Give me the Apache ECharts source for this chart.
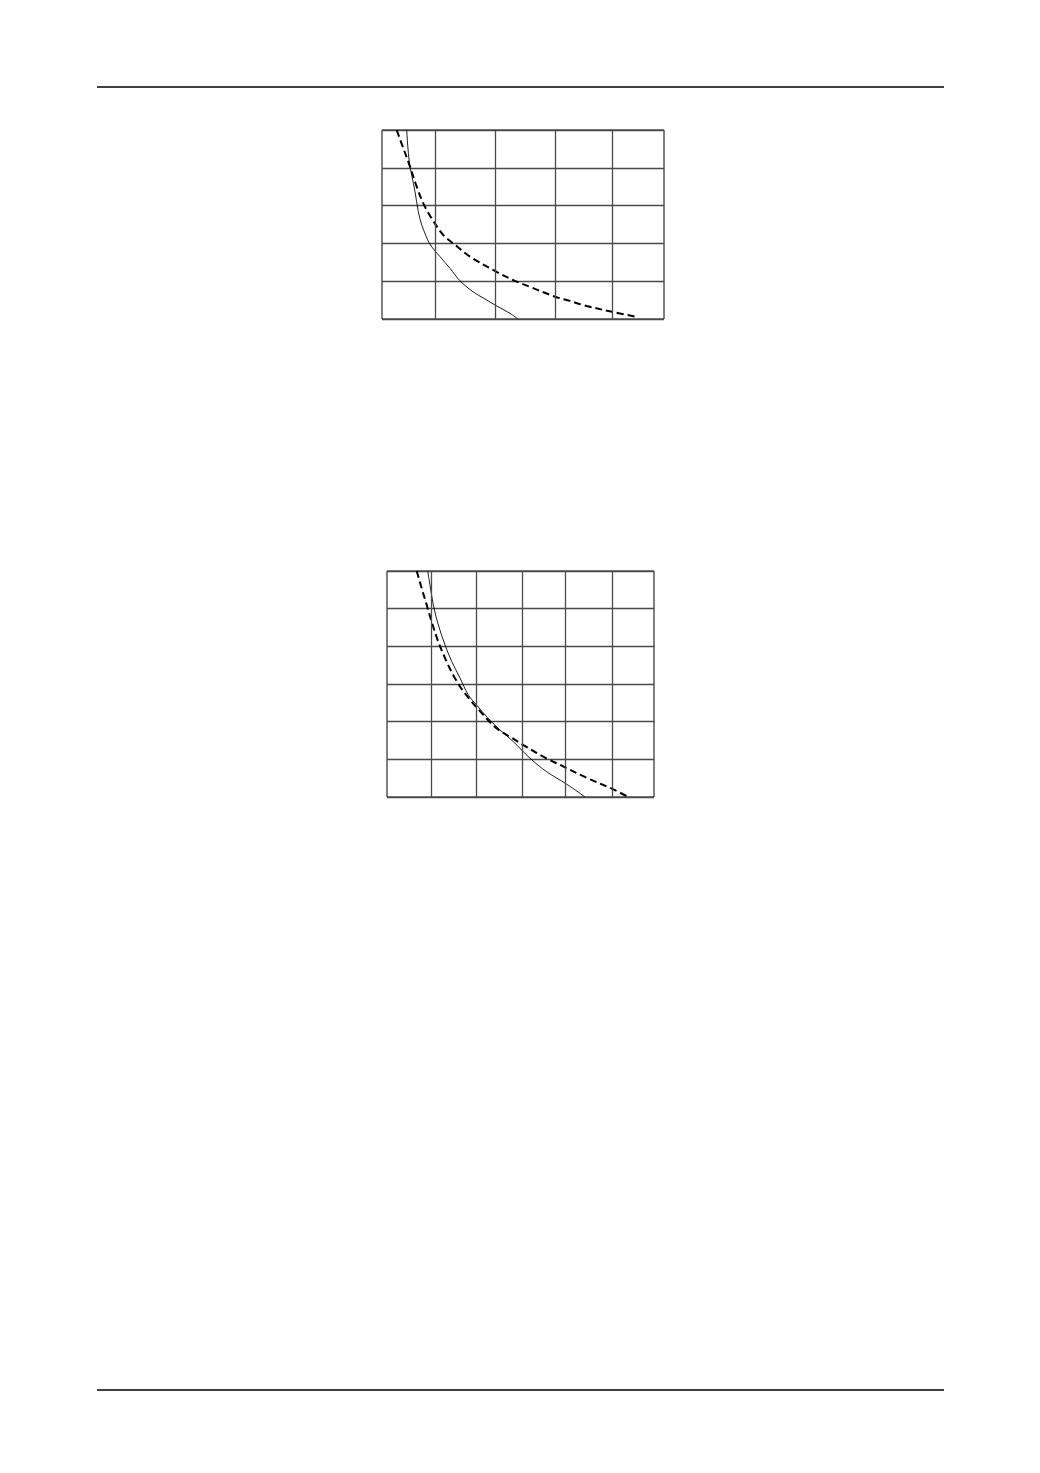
<!DOCTYPE html>
<html>
<head>
<meta charset="utf-8">
<script src="https://cdn.jsdelivr.net/npm/echarts@6/dist/echarts.min.js"></script>
<style>
html,body{margin:0;padding:0;background:#fff;}
#c{width:1040px;height:1473px;}
</style>
</head>
<body>
<div id="c"></div>
<script>
// Chart 1 (top)
var top_xMax = 28.2;
var top_yMax = 5;
var top_xGridLines = [5.3, 11.3, 17.3, 23.0];
var top_solid = [[2.47,5.0],[2.57,4.6],[2.73,4.16],[2.97,3.81],[3.3,3.37],[3.63,2.84],[3.97,2.49],[4.4,2.2],[4.75,2.0],[5.3,1.8],[5.8,1.65],[6.8,1.34],[7.8,1.01],[9.1,0.72],[10.3,0.53],[11.3,0.37],[12.8,0.15],[13.6,0]];
var top_dashed = [[1.47,5.0],[2.13,4.52],[2.8,4.03],[3.47,3.5],[4.13,3.06],[4.97,2.66],[6.13,2.22],[7.13,2.0],[8.8,1.65],[11.3,1.27],[13.13,1.03],[14.8,0.85],[17.3,0.59],[18.8,0.48],[20.1,0.37],[23.0,0.19],[25.6,0.05]];

// Chart 2 (bottom)
var bot_xMax = 26.7;
var bot_yMax = 6;
var bot_xGridLines = [4.4, 8.95, 13.53, 17.87, 22.57];
var bot_solid = [[4.07,6.0],[4.3,5.63],[4.63,5.10],[5.13,4.57],[5.8,4.04],[6.47,3.60],[7.3,3.16],[8.13,2.71],[8.97,2.44],[9.8,2.18],[10.3,2.04],[11.3,1.78],[12.63,1.47],[14.3,1.03],[15.97,0.67],[17.97,0.34],[19.8,0]];
var bot_dashed = [[2.97,6.0],[3.47,5.54],[3.97,5.10],[4.47,4.65],[5.13,4.12],[5.97,3.59],[6.8,3.15],[7.8,2.75],[9.63,2.18],[10.97,1.82],[12.3,1.60],[13.63,1.38],[15.63,1.07],[17.87,0.78],[19.97,0.51],[22.57,0.21],[24.13,0]];

var gridLineColor = '#4a4a4a';

function xAxisFor(idx, max){
  return {type:'value', gridIndex:idx, min:0, max:max, axisLine:{show:false}, axisTick:{show:false}, axisLabel:{show:false}, splitLine:{show:false}};
}
function yAxisFor(idx, max){
  return {type:'value', gridIndex:idx, min:0, max:max, interval:1, axisLine:{show:false}, axisTick:{show:false}, axisLabel:{show:false}, splitLine:{show:true, lineStyle:{color:gridLineColor, width:1.3}}};
}
function vLines(arr){
  return {silent:true, symbol:['none','none'], label:{show:false}, lineStyle:{color:gridLineColor, width:1.3, type:'solid'}, data:arr.map(function(v){return {xAxis:v};})};
}
function curve(idx, data, dashed, grid){
  var s = {type:'line', xAxisIndex:idx, yAxisIndex:idx, data:data, smooth:0.35, symbol:'none', z:3,
    lineStyle: dashed ? {color:'#000', width:2, type:[7,4]} : {color:'#000', width:0.9}};
  if (grid) s.markLine = vLines(grid);
  return s;
}

var chart = echarts.init(document.getElementById('c'), null, {renderer:'canvas'});
chart.setOption({
  backgroundColor:'#fff',
  animation:false,
  grid:[
    {left:382, top:130, width:282, height:189, show:true, borderColor:'#000', borderWidth:1, backgroundColor:'transparent'},
    {left:387, top:571, width:267, height:226, show:true, borderColor:'#000', borderWidth:1, backgroundColor:'transparent'}
  ],
  xAxis:[xAxisFor(0, top_xMax), xAxisFor(1, bot_xMax)],
  yAxis:[yAxisFor(0, top_yMax), yAxisFor(1, bot_yMax)],
  graphic:[
    {type:'line', shape:{x1:97,y1:87,x2:944,y2:87}, style:{stroke:'#000', lineWidth:1.5}},
    {type:'line', shape:{x1:97,y1:1390,x2:944,y2:1390}, style:{stroke:'#000', lineWidth:1.5}}
  ],
  series:[
    curve(0, top_solid, false, top_xGridLines),
    curve(0, top_dashed, true),
    curve(1, bot_solid, false, bot_xGridLines),
    curve(1, bot_dashed, true)
  ]
});
</script>
</body>
</html>
